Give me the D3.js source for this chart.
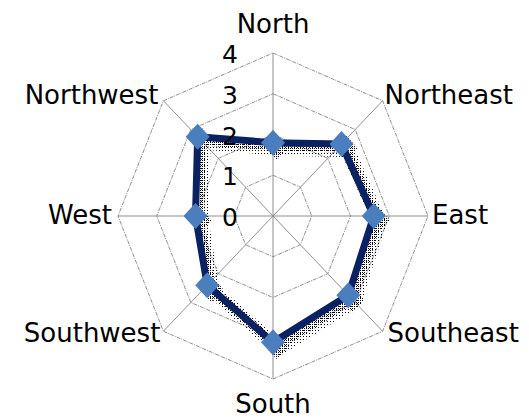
<!DOCTYPE html>
<html>
<head>
<meta charset="utf-8">
<script src="https://cdn.jsdelivr.net/npm/d3@7"></script>
<style>
  html, body { margin: 0; padding: 0; background: #fff; }
  svg { display: block; }
  text { font-family: "DejaVu Sans", sans-serif; fill: #000; }
</style>
</head>
<body>
<svg id="chart" width="529" height="420"></svg>
<script>
// Directions around the radar, clockwise from North
const categories = ["North", "Northeast", "East", "Southeast", "South", "Southwest", "West", "Northwest"];
// One series, one value per direction
const values = [1.8, 2.5, 2.6, 2.75, 3.1, 2.4, 2.0, 2.75];
// Radial axis ticks
const tickValues = [0, 1, 2, 3, 4];
const tickLabels = ["0", "1", "2", "3", "4"];

const svg = d3.select("#chart");
const cx = 273, cy = 216;
const xStretch = 0.951;               // plot area is slightly narrower than tall
const r = d3.scaleLinear().domain([0, 4]).range([0, 163]);
const angle = d3.scaleLinear().domain([0, categories.length]).range([0, 2 * Math.PI]);

const px = (i, v) => cx + Math.sin(angle(i)) * r(v) * xStretch;
const py = (i, v) => cy - Math.cos(angle(i)) * r(v);

// Dotted fills for the drop shadow
const defs = svg.append("defs");
const dense = defs.append("pattern").attr("id", "dotsDense")
  .attr("patternUnits", "userSpaceOnUse").attr("width", 2).attr("height", 2);
dense.append("rect").attr("width", 1).attr("height", 1).attr("fill", "#000");
const sparse = defs.append("pattern").attr("id", "dotsSparse")
  .attr("patternUnits", "userSpaceOnUse").attr("width", 3).attr("height", 3);
sparse.append("rect").attr("width", 1).attr("height", 1).attr("fill", "#000");

const g = svg.append("g");

// Polygonal gridlines
const ring = v => d3.line()(categories.map((c, i) => [px(i, v), py(i, v)])) + "Z";
g.selectAll("path.ring").data(tickValues.filter(v => v > 0)).join("path")
  .attr("class", "ring")
  .attr("d", d => ring(d))
  .attr("fill", "none")
  .attr("stroke", "#8f8f8f")
  .attr("stroke-width", 1)
  .attr("stroke-dasharray", "4,1,1,1");

// Spokes
g.selectAll("line.spoke").data(categories).join("line")
  .attr("class", "spoke")
  .attr("x1", cx).attr("y1", cy)
  .attr("x2", (d, i) => px(i, 4)).attr("y2", (d, i) => py(i, 4))
  .attr("stroke", "#8f8f8f")
  .attr("stroke-width", 1);

// Series path
const pts = values.map((v, i) => [px(i, v), py(i, v)]);
const seriesD = d3.line()(pts) + "Z";
const diamond = (x, y) => `M${x},${y - 13}L${x + 12},${y}L${x},${y + 13}L${x - 12},${y}Z`;

// Shadow
const sh1 = g.append("g").attr("transform", "translate(6,6)");
sh1.append("path").attr("d", seriesD).attr("fill", "none")
  .attr("stroke", "url(#dotsSparse)").attr("stroke-width", 14).attr("stroke-linejoin", "round");
const sh2 = g.append("g").attr("transform", "translate(4,4)");
sh2.append("path").attr("d", seriesD).attr("fill", "none")
  .attr("stroke", "url(#dotsDense)").attr("stroke-width", 9).attr("stroke-linejoin", "round");
sh2.selectAll("path.mk").data(pts).join("path").attr("class", "mk")
  .attr("d", d => diamond(d[0], d[1])).attr("fill", "url(#dotsDense)");

// Line
g.append("path").attr("d", seriesD)
  .attr("fill", "none")
  .attr("stroke", "#0a2262")
  .attr("stroke-width", 7)
  .attr("stroke-linejoin", "round");

// Markers
g.selectAll("path.marker").data(pts).join("path")
  .attr("class", "marker")
  .attr("d", d => diamond(d[0], d[1]))
  .attr("fill", "#4a7ebf");

// Radial tick labels
g.selectAll("text.tick").data(tickValues).join("text")
  .attr("class", "tick")
  .attr("x", 238)
  .attr("y", d => cy - r(d) + 3)
  .attr("text-anchor", "end")
  .attr("dominant-baseline", "middle")
  .attr("font-size", 25)
  .text((d, i) => tickLabels[i]);

// Category labels
const labelPos = (i) => {
  const x = px(i, 4), y = py(i, 4);
  switch (i) {
    case 0: return { x: x, y: y - 20, anchor: "middle", base: "auto" };
    case 1: return { x: x + 2, y: y - 4, anchor: "start", base: "middle" };
    case 2: return { x: x + 4, y: y, anchor: "start", base: "middle" };
    case 3: return { x: x + 5, y: y + 3, anchor: "start", base: "middle" };
    case 4: return { x: x, y: y + 34, anchor: "middle", base: "auto" };
    case 5: return { x: x - 3, y: y + 3, anchor: "end", base: "middle" };
    case 6: return { x: x - 6, y: y, anchor: "end", base: "middle" };
    default: return { x: x - 5, y: y - 4, anchor: "end", base: "middle" };
  }
};
g.selectAll("text.cat").data(categories).join("text")
  .attr("class", "cat")
  .each(function (d, i) {
    const p = labelPos(i);
    d3.select(this).attr("x", p.x).attr("y", p.y)
      .attr("text-anchor", p.anchor)
      .attr("dominant-baseline", p.base);
  })
  .attr("font-size", 26)
  .text(d => d);
</script>
</body>
</html>
